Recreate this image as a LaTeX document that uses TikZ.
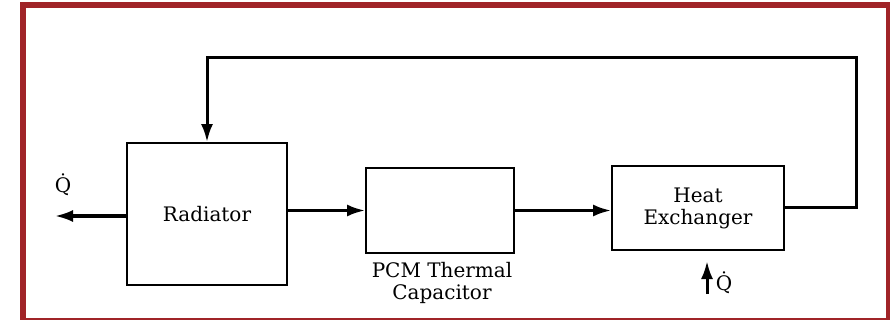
\documentclass[tikz,border=0pt]{standalone}
\usepackage{fontspec}
\setmainfont{DejaVu Serif}
\usetikzlibrary{arrows.meta}
\definecolor{framered}{RGB}{160,36,40}

\begin{document}
\begin{tikzpicture}[x=1pt, y=-1pt, font=\fontsize{20}{22}\selectfont,
   blk/.style={draw, line width=1.8pt, align=center, inner sep=0pt},
   flow/.style={line width=3pt, -{Latex[length=18pt, width=12pt]}}]
  \useasboundingbox (0,0) rectangle (890,320);
  \draw[framered, line width=6pt] (23,5) rectangle (889,321);
  \node[blk, minimum width=160, minimum height=142] (rad) at (207,214) {Radiator};
  \node[blk, minimum width=148, minimum height=85] (pcm) at (440,210.5) {};
  \node[blk, minimum width=172, minimum height=84] (hx) at (698,208) {Heat\\ Exchanger};
  \node[align=center] (pcmlbl) at (442,283) {PCM Thermal\\ Capacitor};
  \node (qout) at (63,185) {\.{Q}};
  \node (qin) at (724,283) {\.{Q}};
  \coordinate (qoutend) at (55,216);
  \coordinate (qinbase) at (707,294);
  \coordinate (qintip) at (707,261);
  \coordinate (topright) at (856,58);
  \coordinate (topleft) at (207,58);
  \draw[flow] (rad.west |- qoutend) -- (qoutend);
  \draw[flow] (rad.east |- pcm.west) -- (pcm.west);
  \draw[flow] (pcm.east) -- (pcm.east -| hx.west);
  \draw[flow] (hx.east) -| (topright) -- (topleft) -- (rad.north);
  \draw[flow] (qinbase) -- (qintip);
\end{tikzpicture}
\end{document}
